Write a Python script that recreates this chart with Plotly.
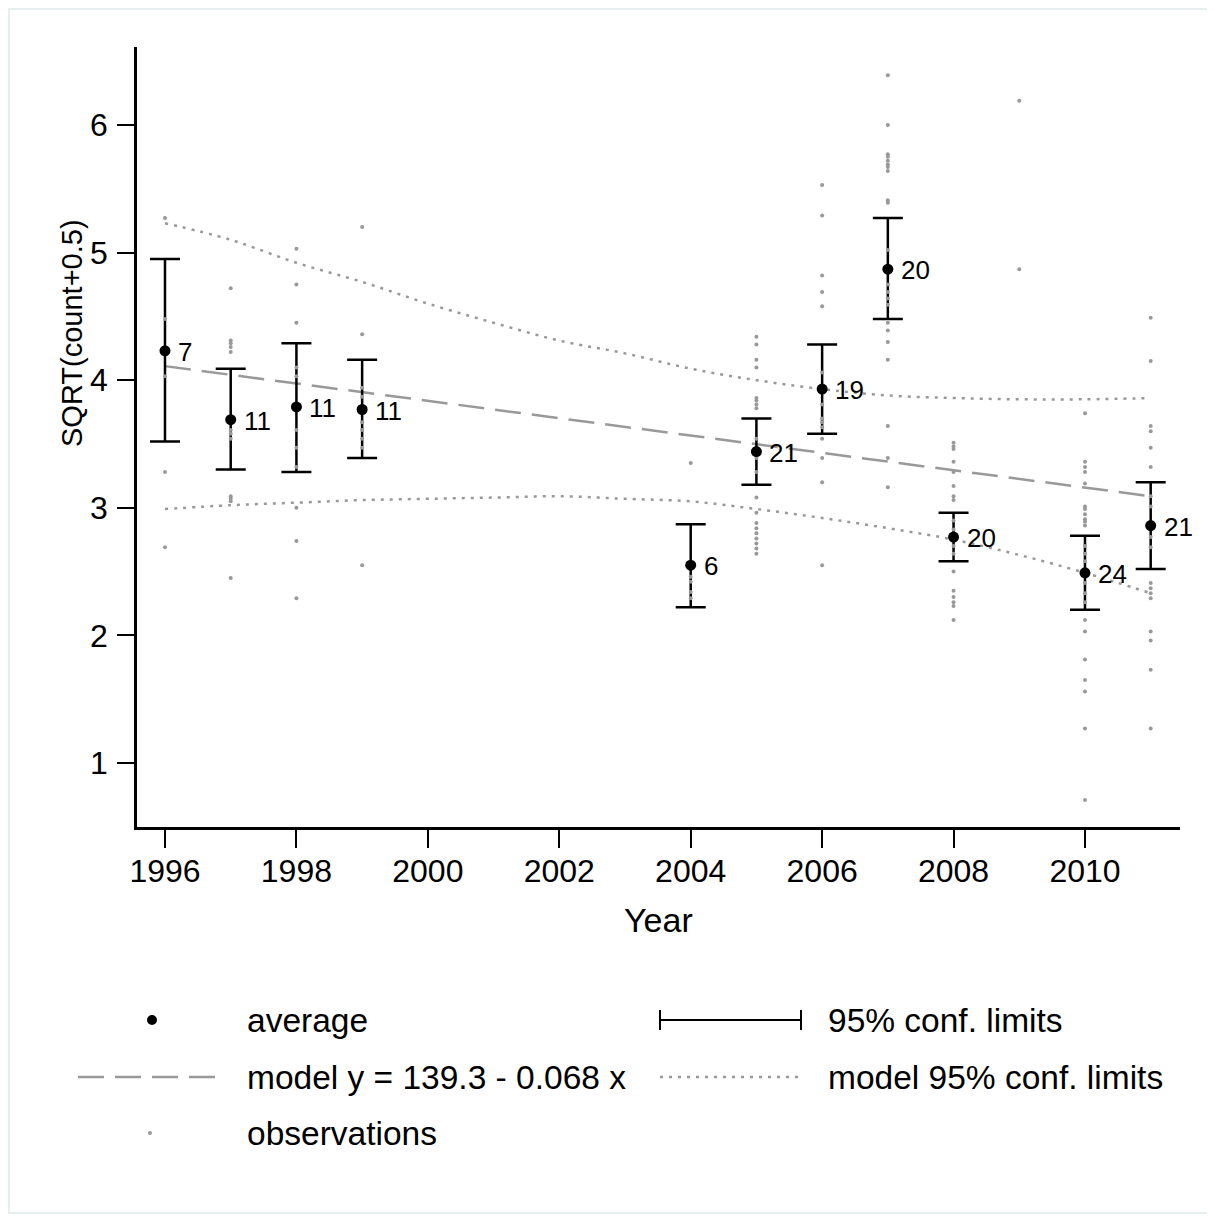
import plotly.graph_objects as go

# ---------------- data ----------------
years_avg = [1996, 1997, 1998, 1999, 2004, 2005, 2006, 2007, 2008, 2010, 2011]
avg = [4.23, 3.69, 3.79, 3.77, 2.55, 3.44, 3.93, 4.87, 2.77, 2.49, 2.86]
ci_hi = [4.95, 4.09, 4.29, 4.16, 2.87, 3.70, 4.28, 5.27, 2.96, 2.78, 3.20]
ci_lo = [3.52, 3.30, 3.28, 3.39, 2.22, 3.18, 3.58, 4.48, 2.58, 2.20, 2.52]
n_obs = [7, 11, 11, 11, 6, 21, 19, 20, 20, 24, 21]

obs_1996 = [5.27, 4.48, 4.23, 4.23, 4.03, 3.28, 2.69]
obs_1997 = [4.72, 4.31, 4.29, 4.26, 4.22, 3.61, 3.58, 3.54, 3.09, 3.07, 3.05, 2.45]
obs_1998 = [5.03, 4.75, 4.45, 4.10, 4.03, 3.61, 3.47, 3.32, 3.00, 2.74, 2.29]
obs_1999 = [5.20, 4.36, 3.94, 3.87, 3.77, 3.67, 3.61, 3.54, 3.47, 2.55]
obs_2004 = [3.35, 2.55, 2.46, 2.42, 2.34, 2.29]
obs_2005 = [4.34, 4.28, 4.16, 4.10, 3.86, 3.84, 3.81, 3.78, 3.54, 3.45, 3.39, 3.28,
            3.08, 2.96, 2.88, 2.84, 2.80, 2.76, 2.72, 2.68, 2.64]
obs_2006 = [5.53, 5.29, 4.82, 4.69, 4.58, 4.06, 3.81, 3.70, 3.67, 3.63, 3.54, 3.39, 3.20, 2.55]
obs_2007 = [6.39, 6.00, 5.77, 5.75, 5.72, 5.69, 5.67, 5.64, 5.41, 5.39, 5.02, 4.75, 4.69,
            4.64, 4.59, 4.45, 4.39, 4.30, 4.16, 3.64, 3.39, 3.16]
obs_2008 = [3.51, 3.48, 3.46, 3.36, 3.28, 3.17, 3.09, 3.06, 2.90, 2.83, 2.70, 2.64, 2.50,
            2.35, 2.30, 2.26, 2.23, 2.12]
obs_2009 = [6.19, 4.87]
obs_2010 = [3.74, 3.36, 3.32, 3.28, 3.19, 3.01, 2.99, 2.95, 2.91, 2.89, 2.86, 2.70, 2.64,
            2.58, 2.41, 2.33, 2.26, 2.12, 2.03, 1.81, 1.65, 1.56, 1.27, 0.71]
obs_2011 = [4.49, 4.15, 3.64, 3.60, 3.47, 3.32, 3.09, 3.01, 2.77, 2.69, 2.41, 2.37, 2.33,
            2.29, 2.03, 1.96, 1.73, 1.27]

model_x = [1996, 2011]
model_y = [4.11, 3.09]

band_years = list(range(1996, 2012))
band_upper = [5.23, 5.10, 4.92, 4.77, 4.60, 4.45, 4.31, 4.21, 4.09, 4.00, 3.93, 3.88, 3.86, 3.85, 3.85, 3.86]
band_lower = [2.99, 3.02, 3.04, 3.06, 3.07, 3.08, 3.09, 3.07, 3.05, 2.99, 2.92, 2.84, 2.75, 2.63, 2.49, 2.33]

x_ticks = [1996, 1998, 2000, 2002, 2004, 2006, 2008, 2010]
y_ticks = [1, 2, 3, 4, 5, 6]

legend_avg = "average"
legend_ci = "95% conf. limits"
legend_model = "model y = 139.3 - 0.068 x"
legend_band = "model 95% conf. limits"
legend_obs = "observations"

# ---------------- build ----------------
obs_by_year = {1996: obs_1996, 1997: obs_1997, 1998: obs_1998, 1999: obs_1999,
               2004: obs_2004, 2005: obs_2005, 2006: obs_2006, 2007: obs_2007,
               2008: obs_2008, 2009: obs_2009, 2010: obs_2010, 2011: obs_2011}
obs_x, obs_y = [], []
for yr, vals in obs_by_year.items():
    obs_x += [yr] * len(vals)
    obs_y += vals

FONT = "Liberation Sans, Arial, sans-serif"
GREY = "#999999"
DOT = "3px,6px"
DASH = "26px,11px"

fig = go.Figure()

for band in (band_upper, band_lower):
    fig.add_trace(go.Scatter(x=band_years, y=band, mode="lines",
                             line=dict(color=GREY, width=2.5, dash=DOT, shape="spline", smoothing=1.0),
                             showlegend=False, hoverinfo="skip"))
fig.add_trace(go.Scatter(x=model_x, y=model_y, mode="lines",
                         line=dict(color=GREY, width=2.5, dash=DASH),
                         showlegend=False, hoverinfo="skip"))

# error bars
fig.add_trace(go.Scatter(
    x=years_avg, y=avg, mode="markers",
    marker=dict(size=1, color="rgba(0,0,0,0)"),
    error_y=dict(type="data", symmetric=False,
                 array=[h - a for h, a in zip(ci_hi, avg)],
                 arrayminus=[a - l for a, l in zip(avg, ci_lo)],
                 color="black", thickness=2.5, width=15),
    showlegend=False, hoverinfo="skip"))

# observations
fig.add_trace(go.Scatter(x=obs_x, y=obs_y, mode="markers",
                         marker=dict(size=4, color=GREY),
                         showlegend=False))

# averages
fig.add_trace(go.Scatter(x=years_avg, y=avg, mode="markers",
                         marker=dict(size=11, color="black"),
                         showlegend=False))

# ---------------- layout ----------------
OFF = 8  # page body margin
FIG_W, FIG_H = 1215 - OFF, 1217 - OFF
L, R, T, B = 137 - OFF, 1180 - OFF, 47 - OFF, 827 - OFF
W, H = R - L, B - T


def px(x):
    return (x - OFF - L) / W


def py(y):
    return (B - (y - OFF)) / H


shapes = []
annotations = []

# count labels next to each average
for yr, a, n in zip(years_avg, avg, n_obs):
    annotations.append(dict(text=str(n), x=yr, y=a, xref="x", yref="y",
                            xanchor="left", yanchor="middle", xshift=11, yshift=-1,
                            showarrow=False,
                            font=dict(family=FONT, size=26, color="black")))

# frame border
shapes.append(dict(type="rect", xref="paper", yref="paper",
                   x0=(1 - L) / W, x1=(1204 - L) / W, y0=(B - 1) / H, y1=(B - 1205) / H,
                   line=dict(color="#e6eef0", width=2), layer="below"))

# legend row 1
shapes.append(dict(type="circle", xref="paper", yref="paper",
                   x0=px(147), x1=px(157), y0=py(1025), y1=py(1015),
                   fillcolor="black", line=dict(color="black", width=0)))
shapes.append(dict(type="line", xref="paper", yref="paper",
                   x0=px(660), x1=px(801), y0=py(1020), y1=py(1020),
                   line=dict(color="black", width=2)))
for cx in (660, 801):
    shapes.append(dict(type="line", xref="paper", yref="paper",
                       x0=px(cx), x1=px(cx), y0=py(1010), y1=py(1030),
                       line=dict(color="black", width=2)))
# legend row 2
shapes.append(dict(type="line", xref="paper", yref="paper",
                   x0=px(78), x1=px(218), y0=py(1077), y1=py(1077),
                   line=dict(color=GREY, width=2.5, dash=DASH)))
shapes.append(dict(type="line", xref="paper", yref="paper",
                   x0=px(660), x1=px(800), y0=py(1077), y1=py(1077),
                   line=dict(color=GREY, width=2.5, dash=DOT)))
# legend row 3
shapes.append(dict(type="circle", xref="paper", yref="paper",
                   x0=px(148), x1=px(152), y0=py(1135), y1=py(1131),
                   fillcolor=GREY, line=dict(color=GREY, width=0)))

for txt, x, y in [(legend_avg, 245, 1020), (legend_ci, 826, 1020),
                  (legend_model, 245, 1077), (legend_band, 826, 1077),
                  (legend_obs, 245, 1133)]:
    annotations.append(dict(text=txt, xref="paper", yref="paper", x=px(x), y=py(y),
                            xanchor="left", yanchor="middle", showarrow=False,
                            font=dict(family=FONT, size=33.5, color="black")))

annotations.append(dict(text="Year", xref="paper", yref="paper", x=px(658), y=py(920),
                        xanchor="center", yanchor="middle", showarrow=False,
                        font=dict(family=FONT, size=34, color="black")))
annotations.append(dict(text="SQRT(count+0.5)", xref="paper", yref="paper", x=px(72), y=py(333),
                        xanchor="center", yanchor="middle", showarrow=False, textangle=-90,
                        font=dict(family=FONT, size=29, color="black")))

fig.update_layout(
    width=FIG_W, height=FIG_H,
    margin=dict(l=L, r=FIG_W - R, t=T, b=FIG_H - B, pad=0),
    paper_bgcolor="white", plot_bgcolor="white",
    showlegend=False,
    shapes=shapes, annotations=annotations,
    xaxis=dict(range=[1995.574, 2011.446], tickvals=x_ticks,
               ticktext=[str(t) for t in x_ticks],
               showgrid=False, zeroline=False, showline=True, linecolor="black", linewidth=2.5,
               ticks="outside", ticklen=18, tickwidth=2, tickcolor="black",
               tickfont=dict(family=FONT, size=32, color="black"), ticklabelstandoff=-4),
    yaxis=dict(range=[0.498, 6.611], tickvals=y_ticks,
               ticktext=[str(t) for t in y_ticks],
               showgrid=False, zeroline=False, showline=True, linecolor="black", linewidth=2.5,
               ticks="outside", ticklen=17, tickwidth=2, tickcolor="black",
               tickfont=dict(family=FONT, size=32, color="black"), ticklabelstandoff=3),
)

fig.write_html("out.html")
